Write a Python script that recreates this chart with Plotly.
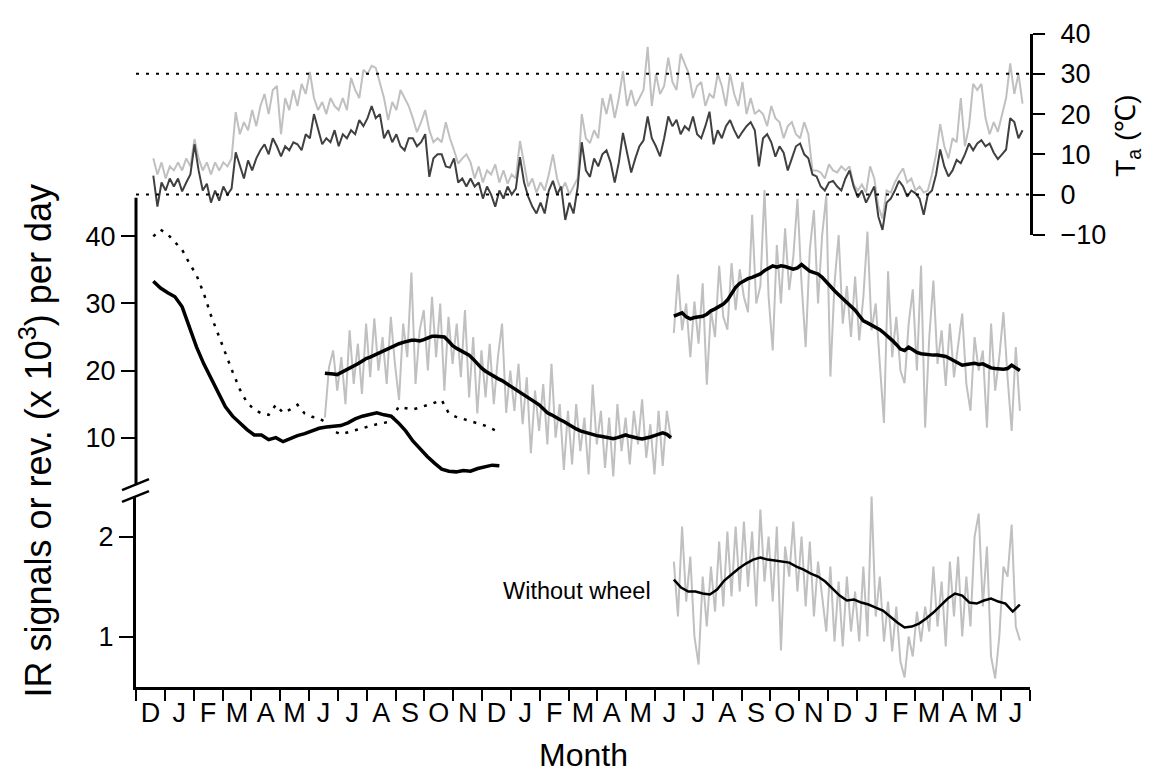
import numpy as np
import plotly.graph_objects as go

# ---------------- data ----------------
MONTH_LABELS = ["D","J","F","M","A","M","J","J","A","S","O","N",
                "D","J","F","M","A","M","J","J","A","S","O","N",
                "D","J","F","M","A","M","J"]

# ambient temperature (deg C), samples every 1/7 month starting mid-December
TEMP_START = 0.6
TEMP_STEP = 1/7
temp_max = [
    9, 5, 8, 4, 7, 6, 8,
    6, 9, 7, 13.8, 9, 6, 8,
    5, 8, 6, 8, 7, 9, 20.5,
    15, 18, 16, 21, 17, 22, 25,
    20, 26, 27, 15, 24, 21, 26,
    22, 27.5, 25, 30.5, 24, 21, 23,
    20, 24, 22, 21, 24, 21, 29,
    26, 24, 31, 30, 32, 31.5, 28,
    24, 18.5, 23, 21, 26, 24, 22,
    19, 15.5, 18, 21, 16, 13, 14,
    13, 18, 14, 11, 7.7, 9, 10,
    8, 4, 7, 3, 6, 5, 7.5,
    3, 6, 2.7, 5, 4, 13.3, 8,
    2, 4, 0.5, 3, 1, 5, 10,
    4, 1, 3, 0, 2, 4, 20,
    14, 12.8, 16, 14, 24, 20, 25,
    19, 24, 30.7, 22, 26, 22, 24,
    26, 36.7, 22, 30, 25, 27, 34,
    28, 26, 35, 32.6, 30, 24, 27,
    28, 22, 25, 24, 30, 27, 22,
    30, 25, 22, 28, 20, 24, 20,
    21, 20, 17, 22, 19, 18, 14,
    17, 18, 15, 14, 18, 15, 6,
    6, 5.5, 4, 7.5, 6, 5.5, 7,
    6, 7, 2.5, 1, 2.5, 0.5, 7,
    4, -3, -6, 1, 0.5, 3, 5,
    6.5, 3, 4, 1, 2, 0.5, 1,
    5, 10, 17.5, 12, 9, 14, 13,
    24, 12, 17, 27.5, 26, 27.5, 19,
    15, 18, 15.6, 20, 24, 32.6, 25,
    30, 22.6,
]
temp_mean = [
    4.7, -3, 3, 1, 4, 2, 4,
    0.8, 3, 5, 12.5, 6, 1, 2.7,
    -2, 1, -1.5, 2, 0, 1.5, 10.5,
    7, 4, 8.5, 6, 9, 11, 12.5,
    10, 14, 12, 9.5, 12, 11, 13,
    12.5, 11, 15, 14, 20, 16, 12.5,
    14, 13, 16, 12, 15, 14, 16,
    15, 18.5, 17, 19, 22, 19, 20,
    14, 16, 13, 15, 12, 11, 14,
    14, 12, 13, 15, 4.4, 9, 10,
    10, 7, 6.7, 9, 3, 4, 2,
    4, 2, 3, -1, 2, 0, -3,
    1, -1, 2, 0, 1.5, 9.3, 3,
    -0.5, -3, -4.7, -2, -4.7, 1, 3.4,
    0, 2, -6.3, -2, -4.7, 1.8, 13,
    6, 4.4, 9, 7, 10, 11, 8,
    3, 8, 15.3, 10, 5.5, 9, 12,
    13.5, 19.4, 14, 12, 9.5, 14, 19.4,
    17, 18.6, 15, 17, 16, 19.4, 15,
    14, 17, 20.6, 12.5, 16, 14, 17,
    18.5, 16, 14, 15.6, 17, 18, 16,
    7, 14, 15, 13, 9.4, 12, 10.4,
    6, 9, 12, 12.7, 10, 9, 5,
    4.5, 2, 1, 3, 3.4, 2, 1,
    4, 6, 2, -0.7, 1, -2, 0,
    2, -5.5, -8.8, -2, -1, 1, 3.4,
    2, -0.5, 1, 0.3, -1, -5, 0,
    1, 5, 11.2, 7, 4.5, 6, 8.6,
    7.8, 10, 12.7, 11, 12.7, 13.5, 12,
    12.7, 10.4, 8.8, 10, 11.2, 19, 18,
    14, 16,
]

# first animal group (smoothed), samples every 1/4 month
A_START, A_END = 0.6, 12.6
a_ir_smooth = [33.3, 32.3, 31.6, 31, 29.5, 26.5, 23.5, 21, 18.8, 16.6, 14.6, 13.2,
               12.2, 11.2, 10.4, 10.4, 9.7, 10, 9.4, 9.9, 10.3, 10.6, 11, 11.4,
               11.6, 11.7, 11.8, 12.2, 12.8, 13.2, 13.5, 13.7, 13.4, 13.2, 12.2, 11,
               9.5, 8.3, 7.2, 6.2, 5.3, 5, 4.9, 5.1, 5, 5.4, 5.6, 5.9, 5.8]
a_wheel_smooth = [40, 41, 40.3, 39.2, 38, 36, 34.2, 31.5, 28.2, 25.4, 22.5, 19.8,
                  17.2, 15.2, 14.2, 13.6, 13.4, 14.9, 13.7, 14.2, 14.9, 13.6, 13.1, 12.9,
                  12.2, 11, 10.5, 10.8, 11.2, 11.5, 11.8, 12, 12.2, 12.4, 14.6, 14.4,
                  14.2, 14.5, 14.8, 15.2, 15.6, 13.6, 13.1, 12.8, 12.5, 12.2, 11.8, 11.3, 10.8]

# second year (daily-ish raw + smoothed), samples every 1/7 month
B_START, B_END = 6.55, 18.55
b_raw = [13, 20.5, 23, 17, 22, 15, 26, 18, 24, 16.5, 27, 19, 27.8, 20, 25, 18, 28, 21,
         15.6, 27, 22, 34.6, 18, 26, 29, 20, 31, 22, 30, 17, 28, 21, 27, 19, 29, 16,
         25, 13.6, 23, 16, 24, 15, 22, 27, 13.7, 20, 14, 21, 12, 19, 7.7, 17, 11, 18,
         9, 21, 10, 15, 5.2, 14, 6, 15, 8, 13, 4.5, 17.9, 9, 14, 5.5, 13, 4.2, 15,
         8, 13, 6, 14, 9, 15.7, 7, 12, 4.5, 14, 5.8, 14, 9.8]
b_smooth = [19.6, 19.6, 19.5, 19.4, 19.7, 20, 20.3, 20.6, 21, 21.4, 21.8, 22, 22.3, 22.6,
            22.9, 23.2, 23.5, 23.8, 24, 24.2, 24.4, 24.5, 24.5, 24.4, 24.6, 24.9, 25.1,
            25.1, 25, 25, 24.4, 23.7, 23.3, 23, 22.7, 22.3, 21.7, 21, 20.4, 19.9, 19.5,
            19.1, 18.8, 18.5, 18.1, 17.7, 17.3, 16.9, 16.5, 16.2, 15.8, 15.4, 14.9, 14.3,
            13.7, 13.4, 13, 12.7, 12.4, 12, 11.6, 11.3, 11, 10.8, 10.6, 10.5, 10.3, 10.2,
            10.1, 10, 9.85, 10, 10.2, 10.4, 10.2, 10, 9.9, 9.8, 9.9, 10.1, 10.3, 10.5,
            10.7, 10.5, 10]

# third year, samples every 1/7 month
C_START, C_END = 18.65, 30.65
c_raw = [25.6, 34.3, 26, 30, 22, 30.3, 24, 33, 17.9, 29, 25, 35.6, 28, 26.1, 36, 29,
         35.1, 31, 28.7, 43.2, 30, 32.6, 46.9, 31, 23, 38.7, 30, 41.2, 32, 37, 45.6, 33,
         23.5, 38, 43.9, 30, 40.2, 46.1, 19.1, 33, 40.2, 27, 32.6, 25, 34, 24.5, 31,
         40.7, 26, 30, 21, 12.2, 34.8, 22, 28, 20, 18.1, 27, 32.1, 20, 35.6, 11.5, 25,
         33.4, 21, 26, 17.7, 27, 19, 24, 28.5, 18, 14, 25, 20, 23, 11.5, 27, 17, 22,
         28.7, 19, 11, 23.5, 14]
c_smooth = [28.1, 28.4, 28.6, 28.0, 27.7, 27.9, 28.0, 28.1, 28.4, 28.9, 29.2, 29.5, 29.9,
            30.5, 31.4, 32.4, 33.0, 33.4, 33.7, 33.9, 34.1, 34.4, 34.9, 35.3, 35.6, 35.4,
            35.6, 35.5, 35.3, 35.1, 35.3, 35.8, 35.3, 34.8, 34.6, 34.4, 33.9, 33.2, 32.5,
            31.9, 31.3, 30.7, 30.1, 29.6, 29.0, 28.2, 27.4, 27.1, 26.8, 26.5, 26.1, 25.6,
            25.1, 24.5, 23.9, 23.2, 23.0, 23.5, 23.1, 22.7, 22.5, 22.4, 22.4, 22.3, 22.3,
            22.2, 22.1, 21.8, 21.5, 21.2, 20.8, 20.9, 21.0, 21.1, 20.9, 21.0, 20.7, 20.4,
            20.3, 20.2, 20.2, 20.3, 20.8, 20.4, 20.0]

# without wheel (third year), samples every 1/7 month
N_START, N_END = 18.65, 30.65
n_raw = [1.75, 1.2, 2.1, 1.35, 1.8, 1.0, 0.72, 1.6, 1.1, 1.7, 1.25, 1.95, 1.3, 2.05,
         1.4, 2.1, 1.45, 2.15, 1.5, 2.05, 1.3, 2.27, 1.55, 2.0, 1.35, 2.1, 0.86, 1.9,
         1.6, 2.15, 1.45, 2.0, 1.3, 1.95, 1.2, 1.75, 1.4, 1.05, 1.7, 0.95, 1.55, 0.9,
         1.6, 1.05, 1.45, 0.95, 1.7, 1.0, 2.4, 1.2, 1.6, 0.95, 1.35, 0.85, 1.3, 0.75,
         0.59, 1.0, 0.8, 1.25, 0.95, 1.3, 1.05, 1.7, 1.1, 1.55, 0.9, 1.75, 1.2, 1.8,
         1.0, 1.6, 1.1, 2.0, 2.23, 1.3, 1.9, 0.8, 0.58, 1.0, 1.7, 1.6, 2.12, 1.1, 0.96]
n_smooth = [1.57, 1.49, 1.45, 1.45, 1.43, 1.42, 1.47, 1.56, 1.62, 1.68, 1.73, 1.77, 1.79,
            1.77, 1.76, 1.75, 1.74, 1.7, 1.67, 1.63, 1.6, 1.55, 1.48, 1.41, 1.36, 1.37,
            1.34, 1.32, 1.29, 1.26, 1.2, 1.14, 1.09, 1.1, 1.13, 1.18, 1.24, 1.31, 1.38,
            1.43, 1.41, 1.34, 1.33, 1.36, 1.38, 1.35, 1.33, 1.25, 1.32]
NOTE_TEXT = "Without wheel"

# ---------------- figure ----------------
W, H = 1151, 776
ML, MR, MT, MB = 136, 121, 20, 89
PW, PH = W - ML - MR, H - MT - MB


def fy(px):  # pixel row -> paper fraction
    return (H - MB - px) / PH


def fx(px):
    return (px - ML) / PW


LIGHT = "#c0c0c0"
DARK = "#404040"
FONT = "Liberation Sans, Arial, Helvetica, sans-serif"
CLEAR = "rgba(0,0,0,0)"

fig = go.Figure()


def xs(start, end, vals):
    return np.linspace(start, end, len(vals))


def xs_step(start, step, vals):
    return start + np.arange(len(vals)) * step


# temperature
fig.add_trace(go.Scatter(x=xs_step(TEMP_START, TEMP_STEP, temp_max), y=temp_max,
                         mode="lines", line=dict(color=LIGHT, width=2), yaxis="y"))
fig.add_trace(go.Scatter(x=xs_step(TEMP_START, TEMP_STEP, temp_mean), y=temp_mean,
                         mode="lines", line=dict(color=DARK, width=2), yaxis="y"))

# activity
fig.add_trace(go.Scatter(x=xs(A_START, A_END, a_wheel_smooth), y=a_wheel_smooth, mode="lines",
                         line=dict(color="black", width=2.5, dash="3px,7px"), yaxis="y2"))
fig.add_trace(go.Scatter(x=xs(A_START, A_END, a_ir_smooth), y=a_ir_smooth, mode="lines",
                         line=dict(color="black", width=3.5), yaxis="y2"))
fig.add_trace(go.Scatter(x=xs(B_START, B_END, b_raw), y=b_raw, mode="lines",
                         line=dict(color=LIGHT, width=2), yaxis="y2"))
fig.add_trace(go.Scatter(x=xs(B_START, B_END, b_smooth), y=b_smooth, mode="lines",
                         line=dict(color="black", width=3.5), yaxis="y2"))
fig.add_trace(go.Scatter(x=xs(C_START, C_END, c_raw), y=c_raw, mode="lines",
                         line=dict(color=LIGHT, width=2), yaxis="y2"))
fig.add_trace(go.Scatter(x=xs(C_START, C_END, c_smooth), y=c_smooth, mode="lines",
                         line=dict(color="black", width=3.5), yaxis="y2"))

# without wheel
fig.add_trace(go.Scatter(x=xs(N_START, N_END, n_raw), y=n_raw, mode="lines",
                         line=dict(color=LIGHT, width=2), yaxis="y3"))
fig.add_trace(go.Scatter(x=xs(N_START, N_END, n_smooth), y=n_smooth, mode="lines",
                         line=dict(color="black", width=2.5), yaxis="y3"))

n_months = len(MONTH_LABELS)
tickfont = dict(family=FONT, size=27, color="black")

Y2_LO, Y2_HI = 2.92, 47.61
Y2_AXIS_TOP = 45.75

fig.update_layout(
    width=W, height=H,
    margin=dict(l=ML, r=MR, t=MT, b=MB),
    paper_bgcolor="white", plot_bgcolor=CLEAR,
    showlegend=False,
    font=dict(family=FONT, color="black"),
    xaxis=dict(domain=[0, 1], range=[0, n_months], anchor="y3",
               showline=True, linewidth=3, linecolor="black",
               tickvals=[k + 0.5 for k in range(n_months)], ticktext=MONTH_LABELS,
               ticks="outside", ticklen=0, tickfont=tickfont, ticklabelstandoff=0,
               minor=dict(ticks="outside", ticklen=11, tickwidth=2, tickcolor="black",
                          tick0=0, dtick=1, showgrid=False),
               showgrid=False, zeroline=False),
    yaxis=dict(domain=[fy(230), fy(26.7)], range=[-10, 40], anchor="x", side="right",
               showline=True, linewidth=3, linecolor="black",
               tickvals=[-10, 0, 10, 20, 30, 40], ticks="outside", ticklen=12, tickwidth=2,
               tickcolor="black", tickfont=tickfont, ticklabelstandoff=10,
               showgrid=False, zeroline=False),
    yaxis2=dict(domain=[fy(483), fy(180)], range=[Y2_LO, Y2_HI], anchor="x", side="left",
                showline=False, tickvals=[10, 20, 30, 40], ticks="outside", ticklen=14,
                tickwidth=2, tickcolor="black", tickfont=tickfont, ticklabelstandoff=0,
                showgrid=False, zeroline=False),
    yaxis3=dict(domain=[0, fy(494)], range=[0.495, 2.406], anchor="x", side="left",
                showline=True, linewidth=3, linecolor="black",
                tickvals=[1, 2], ticks="outside", ticklen=14, tickwidth=2, tickcolor="black",
                tickfont=tickfont, ticklabelstandoff=0,
                showgrid=False, zeroline=False),
)

shapes = [
    # middle-panel axis line (stops at the break)
    dict(type="line", xref="paper", yref="y2", x0=0, x1=0, y0=Y2_LO, y1=Y2_AXIS_TOP,
         line=dict(color="black", width=3)),
    # reference temperatures
    dict(type="line", xref="x", yref="y", x0=0, x1=n_months, y0=0, y1=0,
         line=dict(color="black", width=2, dash="3px,7px")),
    dict(type="line", xref="x", yref="y", x0=0, x1=n_months, y0=30, y1=30,
         line=dict(color="black", width=2, dash="3px,7px")),
    # axis break marks
    dict(type="line", xref="paper", yref="paper", x0=fx(122), x1=fx(149), y0=fy(488), y1=fy(477),
         line=dict(color="black", width=2.5)),
    dict(type="line", xref="paper", yref="paper", x0=fx(122), x1=fx(149), y0=fy(500), y1=fy(489),
         line=dict(color="black", width=2.5)),
]
fig.update_layout(shapes=shapes)

annotations = [
    dict(text=NOTE_TEXT, xref="x", yref="y3", x=17.92, y=1.455, xanchor="right",
         yanchor="middle", showarrow=False, font=dict(family=FONT, size=23.5, color="black")),
    dict(text="Month", xref="paper", yref="paper", x=0.5, y=fy(756), xanchor="center",
         yanchor="middle", showarrow=False, font=dict(family=FONT, size=32, color="black")),
    dict(text="IR signals or rev. (x 10<sup>3</sup>) per day", xref="paper", yref="paper",
         x=fx(36), y=fy(438), xanchor="center", yanchor="middle", textangle=-90,
         showarrow=False, font=dict(family=FONT, size=36, color="black")),
    dict(text="T<sub>a</sub> (℃)", xref="paper", yref="paper", x=fx(1128), y=fy(130),
         xanchor="center", yanchor="middle", textangle=-90, showarrow=False,
         font=dict(family=FONT, size=28, color="black")),
]
fig.update_layout(annotations=annotations)

fig.write_html("out.html")
